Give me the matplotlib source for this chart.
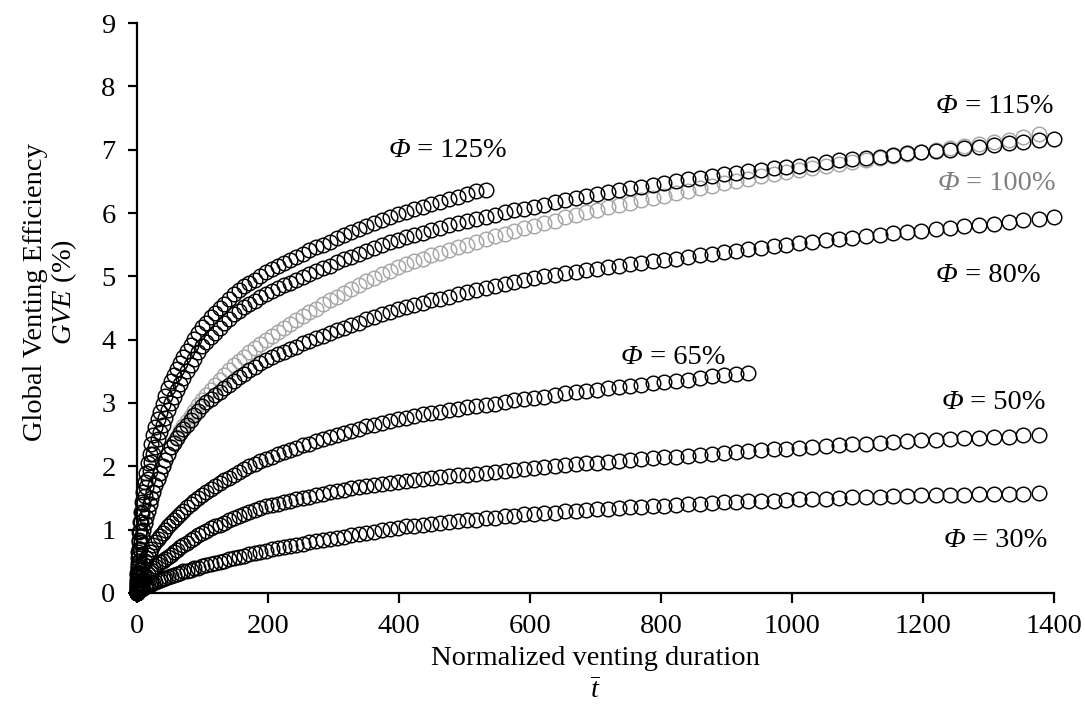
import matplotlib
matplotlib.use('Agg')
import matplotlib.pyplot as plt

plt.rcParams['font.family'] = ['Liberation Serif', 'DejaVu Serif']
plt.rcParams['mathtext.fontset'] = 'custom'
plt.rcParams['mathtext.rm'] = 'Liberation Serif'
plt.rcParams['mathtext.it'] = 'Liberation Serif:italic'

# normalized venting duration (shared sampling grid)
t_bar = [0, 0.1, 0.4, 0.9, 1.6, 2.4, 3.5, 4.8, 6.2, 7.9,
         9.7, 11.8, 14.0, 16.4, 19.1, 21.9, 24.9, 28.1, 31.5, 35.1,
         38.9, 42.9, 47.0, 51.4, 56.0, 60.8, 65.7, 70.9, 76.2, 81.7,
         87.5, 93.4, 99.5, 105.9, 112.4, 119.1, 126.0, 133.1, 140.4, 147.8,
         155.5, 163.4, 171.5, 179.7, 188.2, 196.8, 205.7, 214.7, 224.0, 233.4,
         243.0, 252.8, 262.8, 273.0, 283.4, 294.0, 304.8, 315.8, 327.0, 338.4,
         349.9, 361.7, 373.6, 385.8, 398.1, 410.7, 423.4, 436.3, 449.5, 462.8,
         476.3, 490.0, 503.9, 518.0, 532.3, 546.8, 561.4, 576.3, 591.4, 606.6,
         622.1, 637.7, 653.6, 669.6, 685.8, 702.3, 718.9, 735.7, 752.7, 769.9,
         787.3, 804.9, 822.7, 840.7, 858.9, 877.2, 895.8, 914.5, 933.5, 952.6,
         972.0, 991.5, 1011.3, 1031.2, 1051.3, 1071.6, 1092.2, 1112.9, 1133.7, 1154.8,
         1176.1, 1197.6, 1219.3, 1241.2, 1263.2, 1285.5, 1308.0, 1330.6, 1353.4, 1376.4,
         1399.7]

# GVE (%) for each equivalence ratio
gve_30 = [0, .01, .02, .02, .03, .04, .05, .06, .06, .07,
          .08, .09, .11, .12, .13, .15, .16, .18, .19, .21,
          .22, .24, .25, .27, .29, .30, .32, .34, .35, .37,
          .39, .40, .42, .44, .46, .48, .49, .51, .53, .55,
          .57, .59, .61, .63, .65, .67, .69, .71, .72, .74,
          .76, .78, .80, .82, .83, .85, .87, .89, .91, .93,
          .95, .97, .99, 1.01, 1.03, 1.05, 1.06, 1.08, 1.09, 1.11,
          1.12, 1.14, 1.15, 1.16, 1.18, 1.19, 1.21, 1.22, 1.24, 1.25,
          1.26, 1.27, 1.29, 1.30, 1.31, 1.32, 1.33, 1.34, 1.35, 1.36,
          1.37, 1.38, 1.39, 1.40, 1.41, 1.42, 1.43, 1.44, 1.45, 1.45,
          1.46, 1.47, 1.48, 1.49, 1.49, 1.50, 1.51, 1.52, 1.52, 1.53,
          1.53, 1.54, 1.54, 1.55, 1.55, 1.56, 1.56, 1.57, 1.57, 1.58]

gve_50 = [0, .02, .04, .06, .08, .10, .12, .14, .16, .18,
          .20, .23, .27, .30, .33, .37, .40, .43, .46, .49,
          .51, .54, .57, .60, .64, .68, .72, .76, .79, .83,
          .87, .91, .95, .98, 1.02, 1.05, 1.08, 1.11, 1.15, 1.18,
          1.21, 1.24, 1.28, 1.31, 1.34, 1.37, 1.39, 1.41, 1.44, 1.46,
          1.48, 1.50, 1.52, 1.54, 1.57, 1.59, 1.61, 1.63, 1.65, 1.67,
          1.69, 1.70, 1.72, 1.74, 1.76, 1.77, 1.79, 1.80, 1.82, 1.83,
          1.84, 1.86, 1.87, 1.88, 1.90, 1.91, 1.93, 1.94, 1.96, 1.97,
          1.99, 2.00, 2.02, 2.03, 2.05, 2.06, 2.07, 2.09, 2.10, 2.11,
          2.13, 2.14, 2.15, 2.16, 2.18, 2.19, 2.21, 2.22, 2.24, 2.25,
          2.27, 2.28, 2.29, 2.31, 2.32, 2.34, 2.35, 2.36, 2.37, 2.39,
          2.40, 2.41, 2.42, 2.43, 2.44, 2.45, 2.46, 2.47, 2.49, 2.50]

gve_65 = [0, .05, .09, .14, .18, .23, .27, .32, .36, .41,
          .45, .50, .55, .60, .65, .70, .75, .80, .85, .90,
          .95, 1.00, 1.05, 1.10, 1.15, 1.20, 1.25, 1.30, 1.35, 1.40,
          1.45, 1.50, 1.55, 1.60, 1.64, 1.69, 1.73, 1.78, 1.82, 1.87,
          1.91, 1.95, 2.00, 2.04, 2.08, 2.12, 2.15, 2.19, 2.22, 2.26,
          2.29, 2.33, 2.36, 2.40, 2.43, 2.47, 2.50, 2.53, 2.56, 2.59,
          2.63, 2.66, 2.69, 2.72, 2.75, 2.77, 2.80, 2.82, 2.84, 2.86,
          2.89, 2.91, 2.93, 2.95, 2.97, 2.99, 3.02, 3.04, 3.06, 3.08,
          3.10, 3.12, 3.15, 3.17, 3.19, 3.21, 3.23, 3.25, 3.27, 3.29,
          3.31, 3.33, 3.35, 3.37, 3.40, 3.42, 3.44, 3.46, 3.48]

gve_80 = [0, .10, .20, .30, .40, .50, .60, .70, .80, .90,
          1.00, 1.10, 1.20, 1.30, 1.40, 1.50, 1.60, 1.70, 1.80, 1.90,
          2.00, 2.10, 2.20, 2.30, 2.37, 2.44, 2.52, 2.59, 2.66, 2.73,
          2.81, 2.88, 2.95, 3.01, 3.06, 3.12, 3.18, 3.24, 3.29, 3.35,
          3.41, 3.46, 3.52, 3.57, 3.63, 3.68, 3.72, 3.77, 3.81, 3.85,
          3.89, 3.94, 3.98, 4.02, 4.06, 4.11, 4.15, 4.19, 4.23, 4.27,
          4.32, 4.36, 4.40, 4.44, 4.48, 4.51, 4.55, 4.58, 4.62, 4.65,
          4.68, 4.72, 4.75, 4.78, 4.81, 4.84, 4.88, 4.91, 4.94, 4.97,
          5.00, 5.02, 5.05, 5.07, 5.10, 5.12, 5.14, 5.17, 5.19, 5.21,
          5.24, 5.26, 5.28, 5.31, 5.33, 5.36, 5.38, 5.40, 5.43, 5.45,
          5.48, 5.50, 5.52, 5.54, 5.57, 5.59, 5.61, 5.63, 5.65, 5.68,
          5.70, 5.72, 5.74, 5.76, 5.79, 5.81, 5.83, 5.86, 5.89, 5.91,
          5.94]

gve_100 = [0, .10, .20, .30, .40, .50, .60, .70, .80, .90,
           1.00, 1.10, 1.20, 1.30, 1.40, 1.50, 1.60, 1.70, 1.80, 1.90,
           2.00, 2.10, 2.20, 2.30, 2.38, 2.47, 2.55, 2.63, 2.72, 2.80,
           2.88, 2.97, 3.05, 3.13, 3.21, 3.29, 3.36, 3.44, 3.52, 3.60,
           3.67, 3.73, 3.80, 3.87, 3.93, 4.00, 4.06, 4.12, 4.19, 4.25,
           4.31, 4.37, 4.43, 4.49, 4.56, 4.62, 4.68, 4.74, 4.80, 4.86,
           4.92, 4.97, 5.03, 5.09, 5.15, 5.19, 5.24, 5.28, 5.33, 5.37,
           5.41, 5.46, 5.50, 5.54, 5.59, 5.63, 5.67, 5.71, 5.76, 5.80,
           5.84, 5.88, 5.93, 5.97, 6.01, 6.05, 6.09, 6.12, 6.16, 6.20,
           6.23, 6.27, 6.31, 6.35, 6.39, 6.43, 6.47, 6.51, 6.54, 6.58,
           6.61, 6.65, 6.68, 6.71, 6.75, 6.78, 6.81, 6.84, 6.87, 6.90,
           6.93, 6.96, 6.99, 7.02, 7.06, 7.09, 7.12, 7.16, 7.20, 7.24]

gve_115 = [0, .14, .28, .42, .56, .70, .84, .98, 1.12, 1.26,
           1.40, 1.53, 1.67, 1.80, 1.93, 2.07, 2.20, 2.31, 2.43, 2.54,
           2.66, 2.77, 2.89, 3.00, 3.10, 3.20, 3.30, 3.40, 3.50, 3.60,
           3.70, 3.80, 3.90, 3.97, 4.04, 4.11, 4.19, 4.26, 4.33, 4.40,
           4.45, 4.51, 4.56, 4.61, 4.67, 4.72, 4.77, 4.81, 4.86, 4.90,
           4.95, 4.99, 5.04, 5.08, 5.13, 5.17, 5.22, 5.27, 5.31, 5.36,
           5.40, 5.45, 5.49, 5.54, 5.58, 5.62, 5.66, 5.69, 5.73, 5.77,
           5.81, 5.84, 5.88, 5.91, 5.94, 5.97, 6.01, 6.04, 6.07, 6.10,
           6.13, 6.17, 6.20, 6.23, 6.27, 6.30, 6.33, 6.36, 6.39, 6.41,
           6.44, 6.47, 6.50, 6.53, 6.55, 6.58, 6.61, 6.63, 6.66, 6.68,
           6.71, 6.73, 6.75, 6.78, 6.80, 6.83, 6.85, 6.87, 6.89, 6.92,
           6.94, 6.96, 6.98, 7.00, 7.03, 7.05, 7.07, 7.10, 7.12, 7.15,
           7.17]

gve_125 = [0, .16, .32, .48, .64, .80, .96, 1.12, 1.28, 1.44,
           1.60, 1.75, 1.90, 2.05, 2.20, 2.35, 2.50, 2.62, 2.74, 2.86,
           2.99, 3.11, 3.23, 3.35, 3.44, 3.54, 3.63, 3.73, 3.82, 3.92,
           4.01, 4.11, 4.20, 4.27, 4.35, 4.42, 4.50, 4.57, 4.65, 4.72,
           4.78, 4.84, 4.90, 4.95, 5.01, 5.07, 5.12, 5.17, 5.21, 5.26,
           5.31, 5.36, 5.41, 5.46, 5.50, 5.55, 5.60, 5.65, 5.70, 5.74,
           5.79, 5.84, 5.89, 5.93, 5.98, 6.02, 6.06, 6.10, 6.14, 6.18,
           6.22, 6.26, 6.30, 6.34, 6.37]

# label text, anchor (t, GVE) and colour for each curve
labels = ['125%', '115%', '100%', '80%', '65%', '50%', '30%']
label_t = [417, 1253, 1255, 1253, 772, 1261, 1264]
label_gve = [6.89, 7.58, 6.37, 4.91, 3.62, 2.91, 0.73]
label_colors = ['black', 'black', '#808080', 'black', 'black', 'black', 'black']

FS = 20.5


def scatter_curve(ax, gve, color):
    ax.plot(t_bar[:len(gve)], gve, 'o', mfc='none', mec=color, ms=10.5,
            mew=1.05, clip_on=False)


fig = plt.figure(figsize=(10.85, 7.04), dpi=100)
ax = fig.add_axes([0.1263, 0.1577, 0.8451, 0.8096])

scatter_curve(ax, gve_100, '#A6A6A6')
for gve in [gve_30, gve_50, gve_65, gve_80, gve_115, gve_125]:
    scatter_curve(ax, gve, 'black')

for lab, x, y, c in zip(labels, label_t, label_gve, label_colors):
    ax.text(x, y, '\u03a6', fontsize=FS, fontstyle='italic', color=c,
            ha='right', va='baseline')
    ax.text(x, y, ' = ' + lab, fontsize=FS, color=c, ha='left',
            va='baseline')

ax.set_xlim(0, 1400)
ax.set_ylim(0, 9)
ax.set_xticks(range(0, 1401, 200))
ax.set_yticks(range(0, 10))
ax.spines['top'].set_visible(False)
ax.spines['right'].set_visible(False)
for s in ['left', 'bottom']:
    ax.spines[s].set_linewidth(1.6)
ax.tick_params(axis='x', direction='out', length=7, width=1.6, pad=8,
               labelsize=FS)
ax.tick_params(axis='y', direction='out', length=6.5, width=1.6, pad=9,
               labelsize=FS)

fig.text(0.5488, 0.056, 'Normalized venting duration', fontsize=FS,
         ha='center', va='baseline')
fig.text(0.5488, 0.0, r'$\overline{t}$', fontsize=FS, ha='center',
         va='bottom')
fig.text(0.047, 0.585, 'Global Venting Efficiency\n$GVE$ (%)', fontsize=FS,
         rotation=90, ha='center', va='center', multialignment='center',
         linespacing=1.1)

fig.savefig('out.png', dpi=100)
